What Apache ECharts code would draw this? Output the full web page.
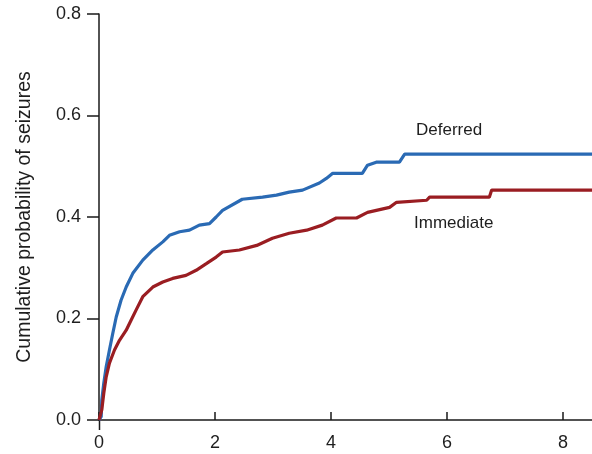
<!DOCTYPE html>
<html>
<head>
<meta charset="utf-8">
<script src="https://cdn.jsdelivr.net/npm/echarts@6/dist/echarts.min.js"></script>
<style>
  html, body { margin: 0; padding: 0; background: #fff; }
  .main { width: 592px; height: 454px; }
</style>
</head>
<body>
<div class="main" id="main"></div>
<script>
// years of follow-up / cumulative probability
var deferredX = [0, 0.038, 0.048, 0.083, 0.124, 0.18, 0.238, 0.297, 0.38, 0.469, 0.583, 0.755, 0.928, 1.10, 1.215, 1.39, 1.56, 1.73, 1.905, 2.02, 2.13, 2.47, 2.82, 3.06, 3.28, 3.51, 3.80, 3.92, 4.03, 4.54, 4.63, 4.78, 5.18, 5.27, 8.5];
var deferredY = [0, 0.0065, 0.039, 0.073, 0.105, 0.138, 0.171, 0.203, 0.236, 0.262, 0.289, 0.315, 0.335, 0.351, 0.364, 0.371, 0.374, 0.384, 0.387, 0.400, 0.413, 0.435, 0.439, 0.443, 0.449, 0.453, 0.467, 0.476, 0.486, 0.486, 0.502, 0.508, 0.508, 0.524, 0.524];

var immediateX = [0, 0.048, 0.083, 0.124, 0.18, 0.267, 0.353, 0.469, 0.555, 0.641, 0.755, 0.928, 1.10, 1.27, 1.50, 1.675, 1.85, 2.02, 2.13, 2.42, 2.72, 2.99, 3.28, 3.58, 3.85, 4.09, 4.44, 4.63, 5.01, 5.13, 5.65, 5.70, 6.73, 6.77, 8.5];
var immediateY = [0, 0.020, 0.053, 0.085, 0.112, 0.138, 0.157, 0.177, 0.197, 0.217, 0.243, 0.262, 0.272, 0.279, 0.285, 0.295, 0.308, 0.321, 0.331, 0.335, 0.344, 0.358, 0.368, 0.374, 0.384, 0.398, 0.398, 0.409, 0.419, 0.429, 0.433, 0.439, 0.439, 0.453, 0.453];

var xTicks = [0, 2, 4, 6, 8];
var yTicks = [0, 0.2, 0.4, 0.6, 0.8];

function pairs(xs, ys) {
  return xs.map(function (x, i) { return [x, ys[i]]; });
}

var myChart = echarts.init(document.getElementById('main'));
var font = 'Liberation Sans, Arial, sans-serif';
var axisLine = { show: true, lineStyle: { color: '#1a1a1a', width: 1.5 } };

var option = {
  animation: false,
  grid: { left: 99, top: 14, right: 0, bottom: 34 },
  xAxis: {
    type: 'value',
    min: 0,
    max: 8.5,
    interval: 2,
    axisLine: axisLine,
    axisTick: { show: true, inside: true, length: 8, lineStyle: { color: '#1a1a1a', width: 1.5 } },
    splitLine: { show: false },
    axisLabel: {
      margin: 14, fontSize: 18, color: '#1e1e1e', fontFamily: font,
      showMaxLabel: false,
      formatter: function (v) { return xTicks.indexOf(v) >= 0 ? String(v) : ''; }
    }
  },
  yAxis: {
    type: 'value',
    min: 0,
    max: 0.8,
    interval: 0.2,
    name: 'Cumulative probability of seizures',
    nameLocation: 'middle',
    nameRotate: 90,
    nameGap: 64,
    nameTextStyle: { fontSize: 19.5, color: '#1e1e1e', fontFamily: font },
    axisLine: axisLine,
    axisTick: { show: true, inside: false, length: 12, lineStyle: { color: '#1a1a1a', width: 1.5 } },
    splitLine: { show: false },
    axisLabel: {
      margin: 18, fontSize: 18, color: '#1e1e1e', fontFamily: font,
      formatter: function (v) { return yTicks.indexOf(v) >= 0 ? v.toFixed(1) : ''; }
    }
  },
  graphic: [
    // little stub of the y axis below the x axis
    { type: 'line', shape: { x1: 99.5, y1: 420, x2: 99.5, y2: 430 }, style: { stroke: '#1a1a1a', lineWidth: 1.5 } },
    { type: 'text', left: 416, top: 122, style: { text: 'Deferred', fontSize: 17, fill: '#1e1e1e', fontFamily: font } },
    { type: 'text', left: 414, top: 215, style: { text: 'Immediate', fontSize: 17, fill: '#1e1e1e', fontFamily: font } }
  ],
  series: [
    {
      name: 'Deferred',
      type: 'line',
      symbol: 'none',
      data: pairs(deferredX, deferredY),
      lineStyle: { color: '#2a6ab4', width: 3.2 }
    },
    {
      name: 'Immediate',
      type: 'line',
      symbol: 'none',
      data: pairs(immediateX, immediateY),
      lineStyle: { color: '#9a1d22', width: 3.2 }
    }
  ]
};
myChart.setOption(option);
</script>
</body>
</html>
